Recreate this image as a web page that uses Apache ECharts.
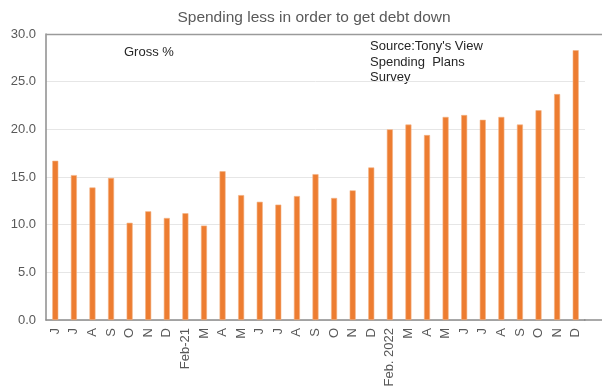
<!DOCTYPE html>
<html>
<head>
<meta charset="utf-8">
<script src="https://cdn.jsdelivr.net/npm/echarts@6/dist/echarts.min.js"></script>
<style>
  html, body { margin: 0; padding: 0; background: #fff; }
  #chart { width: 602px; height: 392px; }
</style>
</head>
<body>
<div id="chart"></div>
<script>
// Month labels, Jun 2020 through Dec 2022
const months = ['J', 'J', 'A', 'S', 'O', 'N', 'D', 'Feb-21', 'M', 'A', 'M', 'J', 'J', 'A', 'S', 'O', 'N', 'D',
  'Feb. 2022', 'M', 'A', 'M', 'J', 'J', 'A', 'S', 'O', 'N', 'D'];

// Gross % of respondents spending less to pay down debt
const grossPct = [16.7, 15.2, 13.9, 14.9, 10.2, 11.4, 10.7, 11.2, 9.9, 15.6, 13.1, 12.4, 12.1, 13.0, 15.3,
  12.8, 13.6, 16.0, 20.0, 20.5, 19.4, 21.3, 21.5, 21.0, 21.3, 20.5, 22.0, 23.7, 28.3];

const yTicks = { min: 0, max: 30, interval: 5 };

const chart = echarts.init(document.getElementById('chart'), null, { renderer: 'canvas' });
const FONT = 'Liberation Sans, Arial, sans-serif';
const GRID = { left: 46, right: 17, top: 34, bottom: 72 };

chart.setOption({
  animation: false,
  title: {
    text: 'Spending less in order to get debt down',
    left: 309, top: 5, textAlign: 'center',
    textStyle: { fontFamily: FONT, fontSize: 15.5, fontWeight: 'normal', color: '#595959' }
  },
  grid: GRID,
  xAxis: {
    type: 'category',
    data: months,
    boundaryGap: true,
    axisLine: { lineStyle: { color: '#8c8c8c', width: 1.5 } },
    axisTick: { show: false },
    axisLabel: {
      interval: 0, rotate: 90, margin: 8,
      fontFamily: FONT, fontSize: 13, color: '#595959'
    }
  },
  yAxis: {
    type: 'value',
    min: yTicks.min, max: yTicks.max, interval: yTicks.interval,
    axisLine: { show: true, lineStyle: { color: '#8c8c8c', width: 1.5 } },
    axisTick: { show: false },
    splitLine: { lineStyle: { color: '#e6e6e6', width: 1 } },
    axisLabel: {
      margin: 10, fontFamily: FONT, fontSize: 13, color: '#595959',
      formatter: v => v.toFixed(1)
    }
  },
  series: [{
    type: 'bar',
    data: grossPct,
    barWidth: 6,
    itemStyle: { color: '#ED7D31', borderColor: '#F4B183', borderWidth: 0.6 }
  }],
  graphic: [
    // top frame line running across the plot
    { type: 'line', z: 5, shape: { x1: 46, y1: 34.5, x2: 602, y2: 34.5 },
      style: { stroke: '#9a9a9a', lineWidth: 1.5 } },
    // category axis continues to the right edge
    { type: 'line', z: 5, shape: { x1: 584, y1: 320, x2: 602, y2: 320 },
      style: { stroke: '#8c8c8c', lineWidth: 1.5 } },
    { type: 'text', left: 124, top: 46,
      style: { text: 'Gross %', font: '13px ' + FONT, fill: '#262626' } },
    { type: 'text', left: 370, top: 39,
      style: { text: "Source:Tony's View\nSpending  Plans\nSurvey", font: '13px ' + FONT,
        fill: '#262626', lineHeight: 15.5 } }
  ]
});
</script>
</body>
</html>
